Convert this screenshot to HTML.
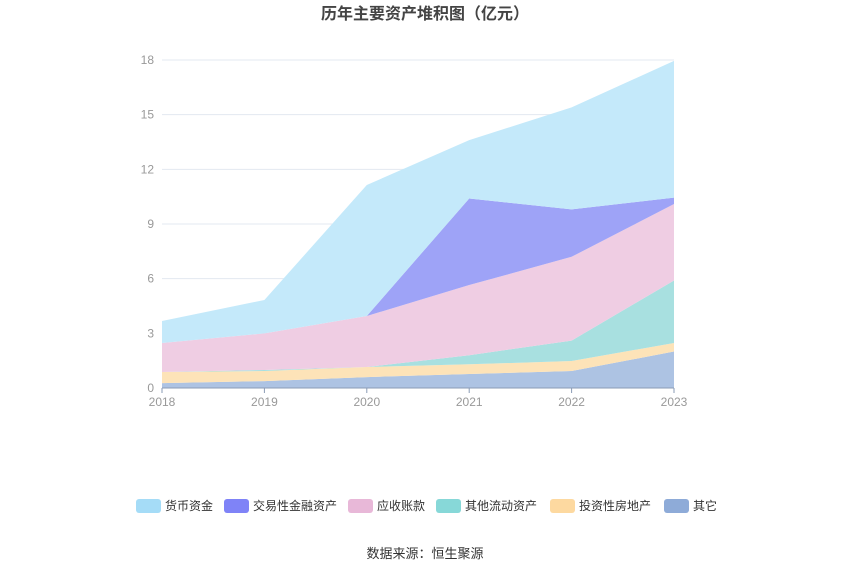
<!DOCTYPE html>
<html><head><meta charset="utf-8">
<style>
body{margin:0;background:#fff;font-family:"Liberation Sans","Noto Sans CJK SC",sans-serif;}
#wrap{position:relative;width:850px;height:574px;overflow:hidden;}
</style></head>
<body>
<div id="wrap">
<svg id="chart" width="850" height="574"></svg>
</div>
<script>
const years=["2018","2019","2020","2021","2022","2023"];
const names=["货币资金","交易性金融资产","应收账款","其他流动资产","投资性房地产","其它"];
const sOther=[0.27,0.38,0.6,0.77,0.93,2.0];
const sInvest=[0.61,0.55,0.55,0.53,0.55,0.47];
const sOtherCur=[0.0,0.06,0.0,0.5,1.12,3.43];
const sRecv=[1.59,2.01,2.8,3.85,4.6,4.2];
const sTrade=[0,0,0,4.75,2.6,0.35];
const sCash=[1.21,1.83,7.19,3.2,5.6,7.5];
const yTicks=[0,3,6,9,12,15,18];

const NS="http://www.w3.org/2000/svg";
const svg=document.getElementById('chart');
const x0=162,x1=674,yb=388,yt=60,ymax=18;
function xs(i){return x0+(x1-x0)*i/(years.length-1);}
function ys(v){return yb-(yb-yt)*v/ymax;}
function mk(t,a,p){const e=document.createElementNS(NS,t);for(const k in a)e.setAttribute(k,a[k]);(p||svg).appendChild(e);return e;}

const title=mk('text',{x:425,y:19,'text-anchor':'middle','font-size':16,'font-weight':'bold',fill:'#444'});
title.textContent="历年主要资产堆积图（亿元）";



yTicks.forEach(t=>{
  const l=mk('line',{x1:x0,x2:x1,y1:ys(t),y2:ys(t),stroke:t===0?'#8a9bb5':'#e3e8f0','stroke-width':1});
  
  
  const tx=mk('text',{x:x0-8,y:ys(t)+4,'text-anchor':'end','font-size':12,fill:'#999'});
  tx.textContent=t;
  
  
});

const series=[sOther,sInvest,sOtherCur,sRecv,sTrade,sCash];
const fills=["#adc3e3","#fde3b8","#a8e0e0","#efcde3","#9ea3f7","#c4e9fa"];
const snames=["other-area","investment-property-area","other-current-assets-area","receivables-area","trading-assets-area","cash-area"];
let base=years.map(()=>0);
series.forEach((s,k)=>{
  const top=base.map((b,i)=>b+s[i]);
  let d="";
  top.forEach((v,i)=>{d+=(i?"L":"M")+xs(i)+","+ys(v);});
  for(let i=years.length-1;i>=0;i--)d+="L"+xs(i)+","+ys(base[i]);
  const p=mk('path',{d:d+"Z",fill:fills[k]});
  
  
  base=top;
});
mk('line',{x1:x0,x2:x1,y1:yb,y2:yb,stroke:'#8a9bb5'});
years.forEach((y,i)=>{
  mk('line',{x1:xs(i),x2:xs(i),y1:yb,y2:yb+5,stroke:'#8a9bb5'});
  const tx=mk('text',{x:xs(i),y:yb+18,'text-anchor':'middle','font-size':12,fill:'#999'});
  tx.textContent=y;
  
  
});

const lcols=["#a5dcf7","#7f83f7","#e8b8d8","#87d8d8","#fdd9a0","#8eabd8"];
const lx=[136,224,348,436,550,664];
names.forEach((n,k)=>{
  const g=mk('g',{});
  
  
  mk('rect',{x:lx[k],y:499,width:25,height:14,rx:3,fill:lcols[k]},g);
  const t=mk('text',{x:lx[k]+29,y:510,'font-size':12,fill:'#333'},g);
  t.textContent=n;
});
const src=mk('text',{x:425,y:558,'text-anchor':'middle','font-size':13,fill:'#333'});
src.textContent="数据来源：恒生聚源";


</script>
</body></html>
